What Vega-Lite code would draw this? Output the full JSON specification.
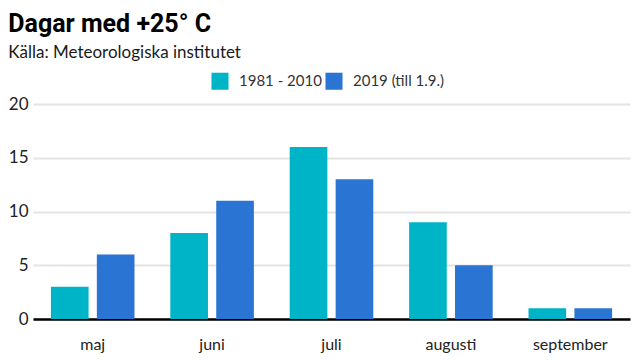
{
  "$schema": "https://vega.github.io/schema/vega-lite/v6.json",
  "width": 640,
  "height": 360,
  "autosize": {"type": "fit", "contains": "padding"},
  "padding": {"left": 8, "top": 12, "right": 10, "bottom": 8},
  "background": "white",
  "title": {
    "text": "Dagar med +25° C",
    "subtitle": "Källa: Meteorologiska institutet",
    "anchor": "start",
    "frame": "bounds",
    "font": "Roboto",
    "fontSize": 25,
    "fontWeight": "bold",
    "color": "#000000",
    "subtitleFont": "Lato",
    "subtitleFontSize": 17,
    "subtitleColor": "#1a1a1a",
    "subtitlePadding": 8,
    "offset": 34
  },
  "data": {
    "values": [
      {"month": "maj", "series": "1981 - 2010", "days": 3},
      {"month": "maj", "series": "2019 (till 1.9.)", "days": 6},
      {"month": "juni", "series": "1981 - 2010", "days": 8},
      {"month": "juni", "series": "2019 (till 1.9.)", "days": 11},
      {"month": "juli", "series": "1981 - 2010", "days": 16},
      {"month": "juli", "series": "2019 (till 1.9.)", "days": 13},
      {"month": "augusti", "series": "1981 - 2010", "days": 9},
      {"month": "augusti", "series": "2019 (till 1.9.)", "days": 5},
      {"month": "september", "series": "1981 - 2010", "days": 1},
      {"month": "september", "series": "2019 (till 1.9.)", "days": 1}
    ]
  },
  "mark": {"type": "bar"},
  "encoding": {
    "x": {
      "field": "month",
      "type": "nominal",
      "sort": ["maj", "juni", "juli", "augusti", "september"],
      "scale": {"paddingInner": 0.3, "paddingOuter": 0.15},
      "axis": {
        "title": null,
        "labelAngle": 0,
        "labelFont": "Lato",
        "labelFontSize": 16,
        "labelColor": "#222222",
        "labelPadding": 17,
        "ticks": false,
        "domain": true,
        "domainColor": "#000000",
        "domainWidth": 2.5,
        "grid": false
      }
    },
    "xOffset": {
      "field": "series",
      "type": "nominal",
      "scale": {"paddingInner": 0.18, "paddingOuter": 0}
    },
    "y": {
      "field": "days",
      "type": "quantitative",
      "scale": {"domain": [0, 20]},
      "axis": {
        "title": null,
        "values": [0, 5, 10, 15, 20],
        "labelFont": "Lato",
        "labelFontSize": 17,
        "labelColor": "#222222",
        "labelPadding": 5,
        "ticks": false,
        "domain": false,
        "gridColor": "#e3e3e3",
        "gridWidth": 2
      }
    },
    "color": {
      "field": "series",
      "type": "nominal",
      "scale": {"domain": ["1981 - 2010", "2019 (till 1.9.)"], "range": ["#00b4c8", "#2a74d4"]},
      "legend": {
        "title": null,
        "orient": "none",
        "direction": "horizontal",
        "legendX": 178,
        "legendY": -32,
        "symbolType": "square",
        "symbolSize": 290,
        "symbolStrokeWidth": 0,
        "symbolOpacity": 1,
        "labelFont": "Lato",
        "labelFontSize": 15,
        "labelColor": "#333333",
        "labelOffset": 10,
        "columnPadding": 3
      }
    }
  },
  "config": {"view": {"stroke": null}}
}
